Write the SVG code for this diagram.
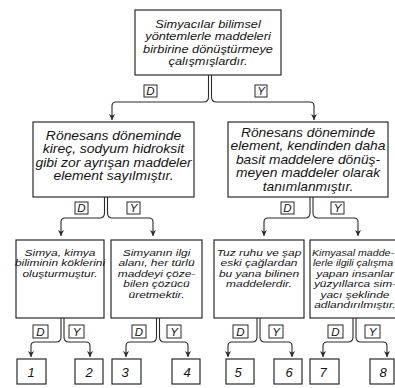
<svg xmlns="http://www.w3.org/2000/svg" width="395" height="388" viewBox="0 0 395 388">
<style>
  .box { fill: #fff; stroke: #2a2a2a; stroke-width: 1.2; }
  .lbl { fill: #fff; stroke: #2a2a2a; stroke-width: 1; }
  .t { font-family: "Liberation Sans", Arial, sans-serif; font-style: italic; fill: #141414; text-anchor: middle; }
  .t1 { font-size: 11.1px; }
  .t2 { font-size: 12px; }
  .t3 { font-size: 9.4px; }
  .tl { font-size: 11.5px; }
  .tn { font-size: 13px; }
  .c { fill: none; stroke: #2a2a2a; stroke-width: 1.1; }
</style>
<defs>
  <marker id="arr" viewBox="0 0 10 10" refX="10" refY="5" markerWidth="7" markerHeight="6" markerUnits="userSpaceOnUse" orient="auto">
    <path d="M0,0 L10,5 L0,10 L3,5 z" fill="#2a2a2a"/>
  </marker>
</defs>
<rect width="395" height="388" fill="#fff"/>

<g id="connectors">
  <path class="c" marker-end="url(#arr)" d="M208.5,75 V97 Q208.5,102 203.5,102 H116 Q112,102 112,106 V120"/>
  <path class="c" marker-end="url(#arr)" d="M211.5,75 V97 Q211.5,102 216.5,102 H310 Q314,102 314,106 V120"/>

  <path class="c" marker-end="url(#arr)" d="M104.5,197 V213 Q104.5,218 99.5,218 H65 Q61,218 61,222 V236"/>
  <path class="c" marker-end="url(#arr)" d="M107.5,197 V213 Q107.5,218 112.5,218 H149 Q153,218 153,222 V236"/>

  <path class="c" marker-end="url(#arr)" d="M310,197 V213 Q310,218 305,218 H268 Q264,218 264,222 V236"/>
  <path class="c" marker-end="url(#arr)" d="M313,197 V213 Q313,218 318,218 H354 Q358,218 358,222 V236"/>

  <path class="c" marker-end="url(#arr)" d="M61,318 V337 Q61,342 56,342 H35 Q31,342 31,346 V357"/>
  <path class="c" marker-end="url(#arr)" d="M64,318 V337 Q64,342 69,342 H86 Q90,342 90,346 V357"/>

  <path class="c" marker-end="url(#arr)" d="M156.5,318 V337 Q156.5,342 151.5,342 H130 Q126,342 126,346 V357"/>
  <path class="c" marker-end="url(#arr)" d="M159.5,318 V337 Q159.5,342 164.5,342 H184 Q188,342 188,346 V357"/>

  <path class="c" marker-end="url(#arr)" d="M257,318 V337 Q257,342 252,342 H232 Q228,342 228,346 V357"/>
  <path class="c" marker-end="url(#arr)" d="M260,318 V337 Q260,342 265,342 H288 Q292,342 292,346 V357"/>

  <path class="c" marker-end="url(#arr)" d="M353,318 V337 Q353,342 348,342 H327 Q323,342 323,346 V357"/>
  <path class="c" marker-end="url(#arr)" d="M356,318 V337 Q356,342 361,342 H383 Q387,342 387,346 V357"/>

  <g id="labels">
    <rect class="lbl" x="144" y="85" width="13" height="12"/><text class="t tl" x="150.5" y="95.3">D</text>
    <rect class="lbl" x="255" y="85" width="12" height="12"/><text class="t tl" x="261" y="95.3">Y</text>
    <rect class="lbl" x="75" y="202" width="13" height="12"/><text class="t tl" x="81.5" y="212.3">D</text>
    <rect class="lbl" x="127" y="202" width="13" height="12"/><text class="t tl" x="133.5" y="212.3">Y</text>
    <rect class="lbl" x="281" y="202" width="13" height="12"/><text class="t tl" x="287.5" y="212.3">D</text>
    <rect class="lbl" x="331" y="202" width="13" height="12"/><text class="t tl" x="337.5" y="212.3">Y</text>
    <rect class="lbl" x="33" y="325" width="15" height="13"/><text class="t tl" x="40.5" y="336">D</text>
    <rect class="lbl" x="69" y="325" width="15" height="13"/><text class="t tl" x="76.5" y="336">Y</text>
    <rect class="lbl" x="132" y="325" width="14" height="13"/><text class="t tl" x="139" y="336">D</text>
    <rect class="lbl" x="167" y="325" width="14" height="13"/><text class="t tl" x="174" y="336">Y</text>
    <rect class="lbl" x="233" y="325" width="15" height="13"/><text class="t tl" x="240.5" y="336">D</text>
    <rect class="lbl" x="269" y="325" width="14" height="13"/><text class="t tl" x="276" y="336">Y</text>
    <rect class="lbl" x="328" y="325" width="15" height="13"/><text class="t tl" x="335.5" y="336">D</text>
    <rect class="lbl" x="365" y="325" width="15" height="13"/><text class="t tl" x="372.5" y="336">Y</text>
  </g>
</g>

<g id="n0">
  <rect class="box" x="135" y="10" width="146" height="65"/>
  <g transform="translate(208,0) scale(1.15,1)">
    <text class="t t1" x="0" y="27.6">Simyacılar bilimsel</text>
    <text class="t t1" x="0" y="40.1">yöntemlerle maddeleri</text>
    <text class="t t1" x="0" y="52.6">birbirine dönüştürmeye</text>
    <text class="t t1" x="0" y="65.1">çalışmışlardır.</text>
  </g>
</g>

<g id="nL">
  <rect class="box" x="33" y="122" width="161" height="75"/>
  <g transform="translate(113.5,0) scale(1.16,1)">
    <text class="t t2" x="0" y="139.8">Rönesans döneminde</text>
    <text class="t t2" x="0" y="153.3">kireç, sodyum hidroksit</text>
    <text class="t t2" x="0" y="166.8">gibi zor ayrışan maddeler</text>
    <text class="t t2" x="0" y="180.3">element sayılmıştır.</text>
  </g>
</g>

<g id="nR">
  <rect class="box" x="228" y="122" width="160" height="75"/>
  <g transform="translate(308,0) scale(1.15,1)">
    <text class="t t2" x="0" y="136.8">Rönesans döneminde</text>
    <text class="t t2" x="0" y="150.3">element, kendinden daha</text>
    <text class="t t2" x="0" y="163.8">basit maddelere dönüş-</text>
    <text class="t t2" x="0" y="177.3">meyen maddeler olarak</text>
    <text class="t t2" x="0" y="190.8">tanımlanmıştır.</text>
  </g>
</g>

<g id="nLL">
  <rect class="box" x="16" y="240" width="88" height="78"/>
  <g transform="translate(60,0) scale(1.27,1)">
    <text class="t t3" x="0" y="256">Simya, kimya</text>
    <text class="t t3" x="0" y="266.5">biliminin köklerini</text>
    <text class="t t3" x="0" y="277">oluşturmuştur.</text>
  </g>
</g>

<g id="nLR">
  <rect class="box" x="111" y="240" width="91" height="78"/>
  <g transform="translate(156.5,0) scale(1.27,1)">
    <text class="t t3" x="0" y="256">Simyanın ilgi</text>
    <text class="t t3" x="0" y="266.5">alanı, her türlü</text>
    <text class="t t3" x="0" y="277">maddeyi çöze-</text>
    <text class="t t3" x="0" y="287.5">bilen çözücü</text>
    <text class="t t3" x="0" y="298">üretmektir.</text>
  </g>
</g>

<g id="nRL">
  <rect class="box" x="214" y="240" width="90" height="78"/>
  <g transform="translate(259,0) scale(1.27,1)">
    <text class="t t3" x="0" y="256">Tuz ruhu ve şap</text>
    <text class="t t3" x="0" y="266.5">eski çağlardan</text>
    <text class="t t3" x="0" y="277">bu yana bilinen</text>
    <text class="t t3" x="0" y="287.5">maddelerdir.</text>
  </g>
</g>

<g id="nRR">
  <rect class="box" x="310" y="240" width="92" height="78"/>
  <g transform="translate(353,0) scale(1.13,1)">
    <text class="t t3" x="0" y="256">Kimyasal madde-</text>
    <text class="t t3" x="0" y="266.5">lerle ilgili çalışma</text>
  </g>
  <g transform="translate(355,0) scale(1.27,1)">
    <text class="t t3" x="0" y="277">yapan insanlar</text>
    <text class="t t3" x="0" y="287.5">yüzyıllarca sim-</text>
    <text class="t t3" x="0" y="298">yacı şeklinde</text>
    <text class="t t3" x="0" y="308.5">adlandırılmıştır.</text>
  </g>
</g>

<g id="r1"><rect class="box" x="17" y="359" width="29" height="25"/><text class="t tn" x="31" y="376.5">1</text></g>
<g id="r2"><rect class="box" x="75" y="359" width="28" height="25"/><text class="t tn" x="89" y="376.5">2</text></g>
<g id="r3"><rect class="box" x="112" y="359" width="29" height="25"/><text class="t tn" x="125" y="376.5">3</text></g>
<g id="r4"><rect class="box" x="172" y="359" width="28" height="25"/><text class="t tn" x="187" y="376.5">4</text></g>
<g id="r5"><rect class="box" x="226" y="359" width="28" height="25"/><text class="t tn" x="238" y="376.5">5</text></g>
<g id="r6"><rect class="box" x="274" y="359" width="28" height="25"/><text class="t tn" x="289" y="376.5">6</text></g>
<g id="r7"><rect class="box" x="310" y="359" width="29" height="25"/><text class="t tn" x="323" y="376.5">7</text></g>
<g id="r8"><rect class="box" x="370" y="359" width="24" height="25"/><text class="t tn" x="383" y="376.5">8</text></g>
</svg>
